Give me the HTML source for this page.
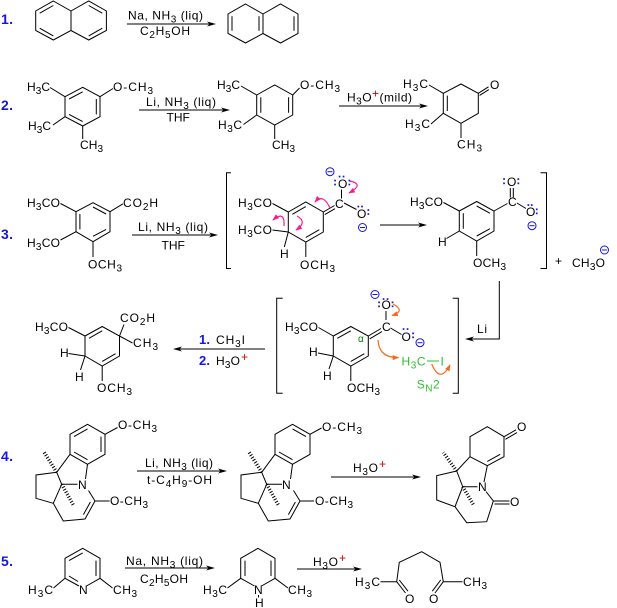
<!DOCTYPE html>
<html><head><meta charset="utf-8"><style>
html,body{margin:0;padding:0;background:#fff;}
svg{display:block;}
text{font-family:"Liberation Sans",Arial,sans-serif;font-size:12px;fill:#000;}
.n{font-weight:bold;font-size:14px;fill:#1515e0;}
.s{font-size:10px;}
.r{fill:#e00000;}
.g{fill:#2ec02e;}
</style></head><body>
<svg width="617" height="608" viewBox="0 0 617 608" xmlns="http://www.w3.org/2000/svg">
<defs>
<marker id="mm" viewBox="0 0 8 6" refX="7" refY="3" markerWidth="7" markerHeight="5" orient="auto" markerUnits="userSpaceOnUse"><path d="M0,0 L8,3 L0,6 z" fill="#ff1a8c"/></marker>
<marker id="mo" viewBox="0 0 8 6" refX="7" refY="3" markerWidth="7" markerHeight="5" orient="auto" markerUnits="userSpaceOnUse"><path d="M0,0 L8,3 L0,6 z" fill="#f26b1d"/></marker>
</defs>
<rect width="617" height="608" fill="#fff"/>
<g stroke="#000" stroke-width="1" fill="none">
<!-- R1 -->
<path d="M53.3,1 L71,11 L71,30.5 L53.3,40 L35.7,30.5 L35.7,11 Z M71,11 L88.7,1 L106.4,11 L106.4,30.5 L88.7,40 L71,30.5"/>
<path d="M39.7,13.2 L53.3,5.5 M39.7,28.2 L53.3,35.9 M88.7,5.5 L102.3,13.2 M102.3,28.2 L88.7,35.9"/>
<path d="M127,24 L211,24"/>
<path d="M245.5,4 L263,14 L263,33.5 L245.5,43 L228,33.5 L228,14 Z M263,14 L280.5,4 L298,14 L298,33.5 L280.5,43 L263,33.5"/>
<path d="M232,16.2 L232,30.8 M259,16.2 L259,30.8 M294,16.2 L294,30.8"/>
<!-- R2 -->
<path d="M65,96.7 L82.7,87.3 L100,96.7 L100,116.7 L82.7,126 L65,116.7 Z"/>
<path d="M69.1,99 L82.7,91.8 M96.3,99 L96.3,114.4 M82.7,121.6 L69.1,114.4"/>
<path d="M50,87.5 L65,96.7 M100,96.7 L113,88.5 M53,125 L65,116.7 M82.7,126 L82.7,139"/>
<path d="M139,110 L225,110"/>
<path d="M256.7,95 L274.7,85 L292.7,95 L292.7,115 L274.7,125 L256.7,115 Z"/>
<path d="M260.8,97.3 L260.8,112.7 M288.6,97.3 L288.6,112.7"/>
<path d="M241,86 L256.7,95 M292.7,95 L299.5,88 M243.5,124.5 L256.7,115 M274.7,125 L274.7,139"/>
<path d="M339,106 L423,106"/>
<path d="M443.3,93.3 L461,84 L478.3,93.3 L478.3,113.3 L461,123.3 L443.3,113.3 Z"/>
<path d="M447.3,95.6 L447.3,111"/>
<path d="M429,85 L443.3,93.3 M431,124 L443.3,113.3 M461,123.3 L461,138 M478.3,93.3 L488.5,86.8 M479.6,95.4 L488.8,89.6"/>
<!-- R3 -->
<path d="M76,211.7 L93,202.7 L110,211.7 L110,231.7 L93,241.7 L76,231.7 Z"/>
<path d="M79.9,214 L79.9,229.4 M93,207 L106.1,214 M106.1,229.4 L93,236.3"/>
<path d="M60.5,203.5 L76,211.7 M110,211.7 L123,203.8 M60.5,240 L76,231.7 M93,241.7 L93,257"/>
<path d="M132,235 L213,235"/>
<path d="M231,172.7 L226.5,172.7 L226.5,268.5 L231,268.5 M540.5,172.7 L546.5,172.7 L546.5,268.5 L540.5,268.5"/>
<path d="M288.3,212 L305.8,202 L323.3,212 L323.3,232 L305.8,242 L288.3,232 Z"/>
<path d="M292.3,214.3 L305.8,206.6 M319.3,229.7 L305.8,237.4"/>
<path d="M272.5,203.5 L288.3,212 M272.5,230 L288.3,232 M288.3,232 L284.3,247 M305.8,242 L305.8,257"/>
<path d="M323.3,212 L334.5,205.5 M324.8,214.6 L335,208.7 M341.5,198.5 L341.5,189.5 M344,203 L356.5,209.5"/>
<path d="M380,225 L422,225"/>
<path d="M459.3,211 L476.7,201.5 L494,211 L494,231 L476.7,241 L459.3,231 Z"/>
<path d="M463.3,213.3 L463.3,228.7 M476.7,206 L490,213.3 M490,228.7 L476.7,236"/>
<path d="M443.5,202.5 L459.3,211 M459.3,231 L446.5,238.5 M476.7,241 L476.7,256 M494,211 L507.5,203.5"/>
<path d="M510.3,188 L510.3,197.5 M513.3,188 L513.3,197.5 M517,203 L526,208.5"/>
<path d="M499.3,281 L499.3,339 L470,339"/>
<path d="M282.7,298.3 L276.7,298.3 L276.7,393.3 L282.7,393.3 M452.7,298.3 L458.3,298.3 L458.3,393.3 L452.7,393.3"/>
<path d="M333.3,336 L350.8,326.5 L368.3,336 L368.3,356 L350.8,366 L333.3,356 Z"/>
<path d="M337.3,338.3 L350.8,330.8 M364.3,353.7 L350.8,361.4"/>
<path d="M318.5,327.5 L333.3,336 M318,353 L333.3,356 M333.3,356 L329,369 M350.8,366 L350.8,381"/>
<path d="M368.3,336 L381,328.5 M369.8,338.8 L382,331.5 M386,320 L386,311 M390.5,328 L401.5,334.5"/>
<path d="M85,336 L102.2,326.5 L119.5,336 L119.5,356 L102.2,366 L85,356 Z"/>
<path d="M89,338.3 L102.2,330.8 M115.5,353.7 L102.2,361.4"/>
<path d="M68.5,327.5 L85,336 M119.5,336 L124,324.5 M119.5,336 L132.5,343 M68.5,353.5 L85,356 M85,356 L80.5,370 M102.2,366 L102.2,381"/>
<path d="M265,349 L178,349"/>
<!-- R4 -->
<path d="M70,434.3 L87.5,424.3 L105,434.3 L105,454.3 L87.5,464.3 L70,454.3 Z"/>
<path d="M74,436.6 L87.5,428.9 M101,436.6 L101,452 M87.5,459.7 L74,452"/>
<path d="M105,434.3 L117.5,427.5 M70,454.3 L56.7,472.3 M56.7,472.3 L36,475 L36,498.3 L53.3,503.3 L61.7,484.3 L56.7,472.3 M62,484.3 L77.5,484.3 M87.5,464.3 L85.5,479 M53.3,503.3 L63.3,521 L85,519 L95,501 L88.5,490.5 M83.4,514.6 L90.4,502 M95,501 L109.5,501"/>
<path d="M137,471 L222,471"/>
<path d="M275,434.3 L292.5,424.3 L310,434.3 L310,454.3 L292.5,464.3 L275,454.3 Z"/>
<path d="M292.5,428.9 L306,436.6 M292.5,459.7 L279,452"/>
<path d="M310,434.3 L321.5,428 M275,454.3 L261.7,472.3 M261.7,472.3 L241,475 L241,498.3 L258.3,503.3 L266.7,484.3 L261.7,472.3 M267,484.3 L282,484.3 M292.5,464.3 L290.5,479 M258.3,503.3 L268.3,521 L290,519 L300,501 L293.5,490.5 M288.4,514.6 L295.4,502 M300,501 L314,501"/>
<path d="M331,477 L416,477"/>
<path d="M470,436.7 L487.3,426.7 L504,436.7 L504,456.7 L487.3,465.7 L470,456.7 Z"/>
<path d="M500.2,454.3 L487.3,461.4"/>
<path d="M504,436.7 L516,429.8 M505.4,439.3 L517,432.6"/>
<path d="M470,456.7 L456.7,471 M456.7,471 L436.7,475.7 L436.7,500 L455,506.7 L462.7,486.7 L456.7,471 M463,486.7 L477.5,486.7 M487.3,465.7 L484,482 M486,491.5 L493.3,501 L486.7,521.7 L466.7,522.7 L455,506.7"/>
<path d="M493.3,501 L509.5,501 M494.5,504 L509.5,504"/>
<!-- R5 -->
<path d="M79,586 L65,578.3 L65,558.3 L82.7,548.3 L100,558.3 L100,578.3 L86.5,586"/>
<path d="M69,560.6 L82.7,552.9 M96,560.6 L96,576 M69,576 L78,581.5"/>
<path d="M65,578.3 L53.5,588 M100,578.3 L112.5,588"/>
<path d="M125,568 L210,568"/>
<path d="M254.5,586 L240.7,578.3 L240.7,558.3 L258,548.3 L275,558.3 L275,578.3 L261.5,586"/>
<path d="M245,560.6 L245,576 M271,560.6 L271,576"/>
<path d="M240.7,578.3 L227.5,588 M275,578.3 L288,588 M258.5,595 L258.5,597.5"/>
<path d="M297,569 L357,569"/>
<path d="M380.5,581.7 L396.7,581.7 L399.3,562.3 L421.7,551.7 L440,562.3 L443.3,581.7 L462.5,581.7"/>
<path d="M396.7,581.7 L405.5,593 M399.3,580 L408,591.2 M443.3,581.7 L435,593 M440.7,580 L432.3,591.2"/>
</g>
<!-- hashed wedges -->
<g stroke="#000" stroke-width="3.5" stroke-dasharray="1 1.8" fill="none">
<path d="M56.7,472.3 L43.3,451 M61.7,484.3 L73.3,505 M261.7,472.3 L248.3,451 M266.7,484.3 L278.3,505 M456.7,471 L443.3,452.5 M462.7,486.7 L474,505.7"/>
</g>
<!-- arrowheads -->
<g fill="#000">
<polygon points="216,24 207,21.5 209.5,24 207,26.5"/>
<polygon points="230,110 221,107.5 223.5,110 221,112.5"/>
<polygon points="428,106 419,103.5 421.5,106 419,108.5"/>
<polygon points="218,235 209,232.5 211.5,235 209,237.5"/>
<polygon points="427,225 418,222.5 420.5,225 418,227.5"/>
<polygon points="465,339 474,336.5 471.5,339 474,341.5"/>
<polygon points="173,349 182,346.5 179.5,349 182,351.5"/>
<polygon points="227,471 218,468.5 220.5,471 218,473.5"/>
<polygon points="421,477 412,474.5 414.5,477 412,479.5"/>
<polygon points="215,568 206,565.5 208.5,568 206,570.5"/>
<polygon points="362,569 353,566.5 355.5,569 353,571.5"/>
</g>
<!-- curved arrows -->
<g fill="none" stroke="#ff1a8c" stroke-width="1.2">
<path d="M349.5,181 Q365,184 349,193" marker-end="url(#mm)"/>
<path d="M330,208 Q323,193 315,202" marker-end="url(#mm)"/>
<path d="M297,216 Q308,222 296,230" marker-end="url(#mm)"/>
<path d="M284,226 Q285,210 273,220" marker-end="url(#mm)"/>
</g>
<g fill="none" stroke="#f26b1d" stroke-width="1.2">
<path d="M393,304 Q406,311 392,315.5" marker-end="url(#mo)"/>
<path d="M378,340 Q379,358 398.5,357.5" marker-end="url(#mo)"/>
<path d="M431.7,364 Q440,384 450,365" marker-end="url(#mo)"/>
</g>
<path d="M427,361 L439,361" stroke="#2ec02e" stroke-width="1"/>
<!-- minus charges -->
<g fill="none" stroke="#1515e0" stroke-width="1">
<circle cx="330" cy="171.7" r="4"/><path d="M327.5,171.7 L332.5,171.7"/>
<circle cx="362.5" cy="227.5" r="4"/><path d="M360,227.5 L365,227.5"/>
<circle cx="532" cy="225.7" r="4"/><path d="M529.5,225.7 L534.5,225.7"/>
<circle cx="604.5" cy="250" r="4"/><path d="M602,250 L607,250"/>
<circle cx="375" cy="294.5" r="4"/><path d="M372.5,294.5 L377.5,294.5"/>
<circle cx="420" cy="342.7" r="4"/><path d="M417.5,342.7 L422.5,342.7"/>
</g>
<!-- lone pairs -->
<g fill="#1515e0">
<rect x="334.2" y="179.7" width="1.7" height="1.7"/><rect x="334.2" y="183.7" width="1.7" height="1.7"/>
<rect x="348.5" y="179.7" width="1.7" height="1.7"/><rect x="348.5" y="183.7" width="1.7" height="1.7"/>
<rect x="338.7" y="175.7" width="1.7" height="1.7"/><rect x="342.7" y="175.7" width="1.7" height="1.7"/>
<rect x="357.5" y="205.7" width="1.7" height="1.7"/><rect x="361.2" y="205.7" width="1.7" height="1.7"/>
<rect x="367.5" y="209.2" width="1.7" height="1.7"/><rect x="367.5" y="213.2" width="1.7" height="1.7"/>
<rect x="503.2" y="178.2" width="1.7" height="1.7"/><rect x="503.2" y="182.5" width="1.7" height="1.7"/>
<rect x="517.5" y="178.2" width="1.7" height="1.7"/><rect x="517.5" y="182.5" width="1.7" height="1.7"/>
<rect x="527.5" y="204.2" width="1.7" height="1.7"/><rect x="530.9" y="204.2" width="1.7" height="1.7"/>
<rect x="535.9" y="208.5" width="1.7" height="1.7"/><rect x="535.9" y="212.5" width="1.7" height="1.7"/>
<rect x="378.2" y="301.5" width="1.7" height="1.7"/><rect x="378.2" y="305.5" width="1.7" height="1.7"/>
<rect x="391.7" y="301.5" width="1.7" height="1.7"/><rect x="391.7" y="305.5" width="1.7" height="1.7"/>
<rect x="382.7" y="298.2" width="1.7" height="1.7"/><rect x="386.7" y="298.2" width="1.7" height="1.7"/>
<rect x="402.7" y="328.2" width="1.7" height="1.7"/><rect x="406.7" y="328.2" width="1.7" height="1.7"/>
<rect x="412.2" y="332.5" width="1.7" height="1.7"/><rect x="412.2" y="336.5" width="1.7" height="1.7"/>
</g>
<!-- TEXT -->
<text class="n" x="1" y="24" textLength="12">1.</text>
<text x="128" y="19.5" textLength="75">Na, NH<tspan class="s" dy="3">3</tspan><tspan dy="-3"> (liq)</tspan></text>
<text x="140" y="35" textLength="50">C<tspan class="s" dy="3">2</tspan><tspan dy="-3">H</tspan><tspan class="s" dy="3">5</tspan><tspan dy="-3">OH</tspan></text>

<text class="n" x="1" y="110" textLength="12">2.</text>
<text x="27" y="91" textLength="23">H<tspan class="s" dy="3">3</tspan><tspan dy="-3">C</tspan></text>
<text x="113" y="91" textLength="40">O-CH<tspan class="s" dy="3">3</tspan></text>
<text x="28" y="130" textLength="23">H<tspan class="s" dy="3">3</tspan><tspan dy="-3">C</tspan></text>
<text x="80" y="149" textLength="23">CH<tspan class="s" dy="3">3</tspan></text>
<text x="146" y="106" textLength="70">Li, NH<tspan class="s" dy="3">3</tspan><tspan dy="-3"> (liq)</tspan></text>
<text x="166.5" y="121.5">THF</text>
<text x="217" y="89" textLength="23">H<tspan class="s" dy="3">3</tspan><tspan dy="-3">C</tspan></text>
<text x="300" y="89" textLength="40">O-CH<tspan class="s" dy="3">3</tspan></text>
<text x="218" y="129" textLength="24">H<tspan class="s" dy="3">3</tspan><tspan dy="-3">C</tspan></text>
<text x="272" y="149" textLength="23">CH<tspan class="s" dy="3">3</tspan></text>
<text x="347" y="101.5" textLength="65">H<tspan class="s" dy="3">3</tspan><tspan dy="-3">O</tspan><tspan class="r" dy="-4">+</tspan><tspan dy="4">(mild)</tspan></text>
<text x="403" y="88" textLength="25">H<tspan class="s" dy="3">3</tspan><tspan dy="-3">C</tspan></text>
<text x="490" y="89">O</text>
<text x="405" y="128" textLength="25">H<tspan class="s" dy="3">3</tspan><tspan dy="-3">C</tspan></text>
<text x="457" y="148.5" textLength="25">CH<tspan class="s" dy="3">3</tspan></text>

<text class="n" x="1" y="239" textLength="12">3.</text>
<text x="27" y="207" textLength="33">H<tspan class="s" dy="3">3</tspan><tspan dy="-3">CO</tspan></text>
<text x="123" y="207" textLength="35">CO<tspan class="s" dy="3">2</tspan><tspan dy="-3">H</tspan></text>
<text x="27" y="247" textLength="33">H<tspan class="s" dy="3">3</tspan><tspan dy="-3">CO</tspan></text>
<text x="88" y="268.5" textLength="34">OCH<tspan class="s" dy="3">3</tspan></text>
<text x="138" y="231" textLength="70">Li, NH<tspan class="s" dy="3">3</tspan><tspan dy="-3"> (liq)</tspan></text>
<text x="161.5" y="249.5">THF</text>
<text x="238" y="207" textLength="34">H<tspan class="s" dy="3">3</tspan><tspan dy="-3">CO</tspan></text>
<text x="238" y="234" textLength="34">H<tspan class="s" dy="3">3</tspan><tspan dy="-3">CO</tspan></text>
<text x="280" y="258">H</text>
<text x="300" y="269" textLength="35">OCH<tspan class="s" dy="3">3</tspan></text>
<text x="335" y="208">C</text>
<text x="338" y="188">O</text>
<text x="357" y="218">O</text>
<text x="410" y="206" textLength="33">H<tspan class="s" dy="3">3</tspan><tspan dy="-3">CO</tspan></text>
<text x="438" y="246">H</text>
<text x="473" y="267" textLength="33">OCH<tspan class="s" dy="3">3</tspan></text>
<text x="508" y="206">C</text>
<text x="507" y="186">O</text>
<text x="526" y="216">O</text>
<text x="555" y="265">+</text>
<text x="572" y="267" textLength="33">CH<tspan class="s" dy="3">3</tspan><tspan dy="-3">O</tspan></text>

<text x="285" y="331" textLength="33">H<tspan class="s" dy="3">3</tspan><tspan dy="-3">CO</tspan></text>
<text x="309" y="356">H</text>
<text x="323" y="380">H</text>
<text x="347" y="392" textLength="33">OCH<tspan class="s" dy="3">3</tspan></text>
<text x="358" y="342" style="font-size:10px;fill:#008000">α</text>
<text x="382" y="331">C</text>
<text x="381.5" y="309">O</text>
<text x="401.5" y="341">O</text>
<text class="g" x="401.5" y="365.5" textLength="24">H<tspan class="s" dy="3">3</tspan><tspan dy="-3">C</tspan></text>
<text class="g" x="440.5" y="365.5">I</text>
<text class="g" x="416.7" y="388.5" textLength="23">S<tspan class="s" dy="3">N</tspan><tspan dy="-3">2</tspan></text>
<text x="477" y="333" textLength="10">Li</text>

<text x="35" y="331" textLength="33">H<tspan class="s" dy="3">3</tspan><tspan dy="-3">CO</tspan></text>
<text x="120" y="322" textLength="35">CO<tspan class="s" dy="3">2</tspan><tspan dy="-3">H</tspan></text>
<text x="133" y="347" textLength="25">CH<tspan class="s" dy="3">3</tspan></text>
<text x="60" y="357">H</text>
<text x="75" y="381">H</text>
<text x="97" y="392" textLength="35">OCH<tspan class="s" dy="3">3</tspan></text>
<text class="n" x="199" y="344" textLength="11" style="font-size:13px">1.</text>
<text x="216" y="344" textLength="29">CH<tspan class="s" dy="3">3</tspan><tspan dy="-3">I</tspan></text>
<text class="n" x="199" y="365" textLength="11" style="font-size:13px">2.</text>
<text x="216" y="365" textLength="24">H<tspan class="s" dy="3">3</tspan><tspan dy="-3">O</tspan></text>
<text class="r" x="241" y="361">+</text>

<text class="n" x="1" y="461" textLength="12">4.</text>
<text x="118" y="429" textLength="39">O-CH<tspan class="s" dy="3">3</tspan></text>
<text x="78" y="489">N</text>
<text x="110" y="505" textLength="38">O-CH<tspan class="s" dy="3">3</tspan></text>
<text x="145" y="467" textLength="68">Li, NH<tspan class="s" dy="3">3</tspan><tspan dy="-3"> (liq)</tspan></text>
<text x="147" y="484" textLength="65">t-C<tspan class="s" dy="3">4</tspan><tspan dy="-3">H</tspan><tspan class="s" dy="3">9</tspan><tspan dy="-3">-OH</tspan></text>
<text x="322" y="431" textLength="40">O-CH<tspan class="s" dy="3">3</tspan></text>
<text x="282" y="489">N</text>
<text x="315" y="505" textLength="38">O-CH<tspan class="s" dy="3">3</tspan></text>
<text x="353" y="472" textLength="25">H<tspan class="s" dy="3">3</tspan><tspan dy="-3">O</tspan></text>
<text class="r" x="379" y="468">+</text>
<text x="517" y="431">O</text>
<text x="478" y="491">N</text>
<text x="510" y="506">O</text>

<text class="n" x="1" y="566" textLength="12">5.</text>
<text x="28" y="594" textLength="25">H<tspan class="s" dy="3">3</tspan><tspan dy="-3">C</tspan></text>
<text x="79" y="594">N</text>
<text x="113" y="594" textLength="24">CH<tspan class="s" dy="3">3</tspan></text>
<text x="126" y="565" textLength="77">Na, NH<tspan class="s" dy="3">3</tspan><tspan dy="-3"> (liq)</tspan></text>
<text x="140" y="583" textLength="48">C<tspan class="s" dy="3">2</tspan><tspan dy="-3">H</tspan><tspan class="s" dy="3">5</tspan><tspan dy="-3">OH</tspan></text>
<text x="203" y="594" textLength="24">H<tspan class="s" dy="3">3</tspan><tspan dy="-3">C</tspan></text>
<text x="254" y="594">N</text>
<text x="255" y="607">H</text>
<text x="288" y="594" textLength="24">CH<tspan class="s" dy="3">3</tspan></text>
<text x="313" y="566" textLength="25">H<tspan class="s" dy="3">3</tspan><tspan dy="-3">O</tspan></text>
<text class="r" x="339" y="562">+</text>
<text x="355" y="586" textLength="25">H<tspan class="s" dy="3">3</tspan><tspan dy="-3">C</tspan></text>
<text x="405" y="603">O</text>
<text x="429" y="603">O</text>
<text x="463" y="586" textLength="24">CH<tspan class="s" dy="3">3</tspan></text>
</svg>
</body></html>
